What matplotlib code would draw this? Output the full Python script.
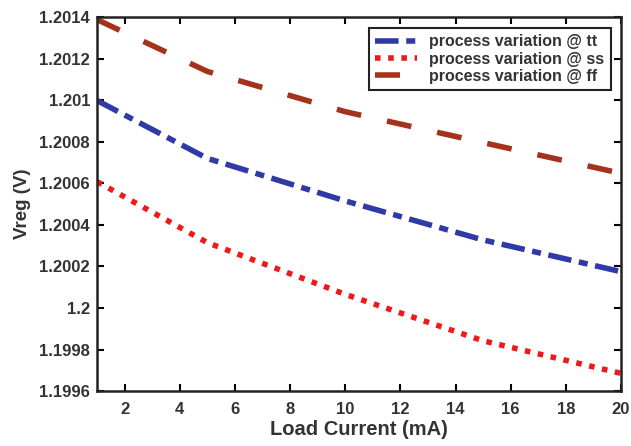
import matplotlib.pyplot as plt
import numpy as np

# load current (mA) and regulated voltage (V) per process corner
load_ma = [1, 5, 10, 15, 20]
vreg_tt = [1.20100, 1.200721, 1.200516, 1.200328, 1.200175]
vreg_ss = [1.200609, 1.200315, 1.200066, 1.199842, 1.199685]
vreg_ff = [1.20139, 1.20114, 1.200946, 1.200797, 1.200649]

labels = ["process variation @ tt", "process variation @ ss", "process variation @ ff"]
xticks = [2, 4, 6, 8, 10, 12, 14, 16, 18, 20]
yticks = [1.1996, 1.1998, 1.2, 1.2002, 1.2004, 1.2006, 1.2008, 1.201, 1.2012, 1.2014]


def main():
    plt.rcParams["font.family"] = ["Liberation Sans", "DejaVu Sans"]
    plt.rcParams["font.weight"] = "bold"
    plt.rcParams["lines.scale_dashes"] = False

    fig = plt.figure(figsize=(6.31, 4.46), dpi=100)
    ax = fig.add_axes([0.1537, 0.1233, 0.8305, 0.8375])

    text_color = "#333333"
    lw = 4.0

    ax.plot(load_ma, vreg_tt, color="#2f3aa6", lw=lw, dashes=(17, 5.5, 6.5, 5.5),
            dash_capstyle="butt", label=labels[0])
    ax.plot(load_ma, vreg_ss, color="#f01818", lw=lw, dashes=(4, 5.5),
            dash_capstyle="butt", label=labels[1])
    ax.plot(load_ma, vreg_ff, color="#a5321c", lw=lw, dashes=(18, 19),
            dash_capstyle="butt", label=labels[2])

    ax.set_xlim(1, 20)
    ax.set_ylim(1.1996, 1.2014)
    ax.set_xticks(xticks)
    ax.set_yticks(yticks)
    ax.set_yticklabels([f"{round(v, 4):g}" for v in yticks])

    ax.tick_params(direction="in", length=5, width=1.5, top=True, right=True,
                   labelsize=12, labelcolor=text_color)
    ax.tick_params(axis="x", pad=8)
    ax.tick_params(axis="y", pad=5)
    for s in ax.spines.values():
        s.set_linewidth(1.8)
        s.set_color("#222222")

    ax.set_xlabel("Load Current (mA)", fontsize=14.5, fontweight="bold",
                  color=text_color, labelpad=2)
    ax.set_ylabel("Vreg (V)", fontsize=13.5, fontweight="bold",
                  color=text_color, labelpad=6)

    leg = ax.legend(loc="upper right", bbox_to_anchor=(0.99, 0.985),
                    fontsize=11.5, frameon=True, fancybox=False,
                    handlelength=2.6, handletextpad=0.8, borderpad=0.4,
                    labelspacing=0.15, borderaxespad=0.3)
    leg.get_frame().set_edgecolor("#222222")
    leg.get_frame().set_linewidth(1.5)
    leg.get_frame().set_alpha(1)
    for t in leg.get_texts():
        t.set_color(text_color)

    plt.savefig("out.png", dpi=100)


if __name__ == "__main__":
    main()
